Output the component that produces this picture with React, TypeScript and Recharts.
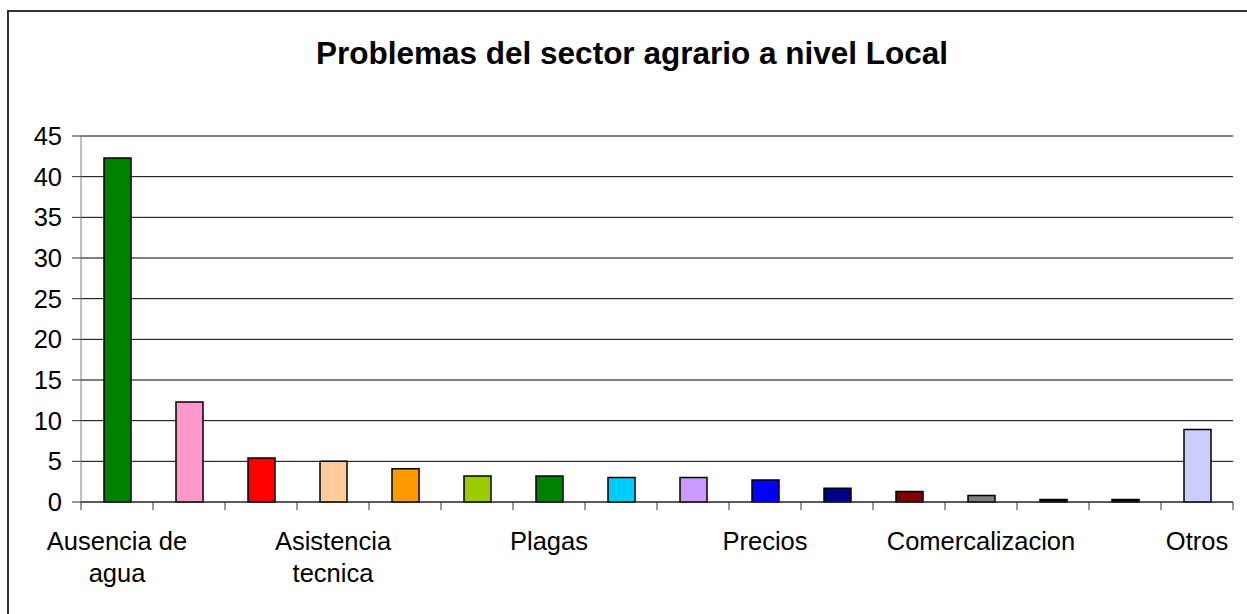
import React from 'react';
import { BarChart, Bar, Cell, XAxis, YAxis, CartesianGrid } from 'recharts';

const TITLE = 'Problemas del sector agrario a nivel Local';

// only every third category name is printed in the original
const categories = [
  'Ausencia de agua', '', '', 'Asistencia tecnica', '', '', 'Plagas', '', '',
  'Precios', '', '', 'Comercalizacion', '', '', 'Otros',
];
const values = [42.3, 12.3, 5.4, 5.0, 4.1, 3.2, 3.2, 3.0, 3.0, 2.7, 1.7, 1.3, 0.8, 0.3, 0.3, 8.9];
const barColors = [
  '#008000', '#FF99CC', '#FF0000', '#FFCC99', '#FF9900', '#99CC00', '#008000', '#00CCFF',
  '#CC99FF', '#0000FF', '#000080', '#800000', '#808080', '#000000', '#000000', '#CCCCFF',
];
const yTicks = [0, 5, 10, 15, 20, 25, 30, 35, 40, 45];

const data = categories.map((name, i) => ({ id: i, name, value: values[i] }));

const FONT = '"Liberation Sans", Arial, sans-serif';
const STEP = 72; // width of one category band

// wrap like the original: last word drops to a second line
const splitLabel = (s: string) => {
  const words = s.split(' ');
  if (words.length < 2) return [s];
  return [words.slice(0, -1).join(' '), words[words.length - 1]];
};

const CategoryTick = (props: any) => {
  const { x, y, index, payload } = props;
  const label = categories[payload.value] ?? '';
  const lines = label ? splitLabel(label) : [];
  return (
    <g>
      <line x1={x - STEP / 2} y1={y} x2={x - STEP / 2} y2={y + 8} stroke="#333" />
      {index === categories.length - 1 && (
        <line x1={x + STEP / 2} y1={y} x2={x + STEP / 2} y2={y + 8} stroke="#333" />
      )}
      {lines.length > 0 && (
        <text x={x} y={y + 48} textAnchor="middle" fill="#000" style={{ fontFamily: FONT, fontSize: 25.5 }}>
          {lines.map((l, i) => (
            <tspan key={i} x={x} dy={i === 0 ? 0 : 32}>
              {l}
            </tspan>
          ))}
        </text>
      )}
    </g>
  );
};

export default function App() {
  return (
    <div style={{ position: 'absolute', left: 0, top: 0, width: 1247, height: 614, background: '#fff' }}>
      <div
        style={{
          position: 'absolute', left: 7, top: 10, width: 1240, height: 604,
          boxSizing: 'border-box', borderTop: '2px solid #333', borderLeft: '2px solid #333',
        }}
      />
      <div
        style={{
          position: 'absolute', left: 0, top: 38, width: 1264, textAlign: 'center',
          fontFamily: FONT, fontWeight: 'bold', fontSize: 31.5, lineHeight: '30px', color: '#000',
        }}
      >
        {TITLE}
      </div>
      <div style={{ position: 'absolute', left: 0, top: 0 }}>
        <BarChart width={1247} height={614} data={data} margin={{ top: 136, right: 14, bottom: 0, left: 0 }}>
          <CartesianGrid vertical={false} stroke="#000" />
          <XAxis
            dataKey="id"
            type="category"
            height={112}
            interval={0}
            tickSize={0}
            tickMargin={0}
            stroke="#333"
            tick={<CategoryTick />}
          />
          <YAxis
            width={81}
            domain={[0, 45]}
            ticks={yTicks}
            interval={0}
            tickSize={9}
            tickMargin={10}
            stroke="#808080"
            tickLine={{ stroke: '#333' }}
            tick={{ fill: '#000', fontFamily: FONT, fontSize: 25.5 }}
          />
          <Bar dataKey="value" barSize={27} stroke="#000" strokeWidth={1.5} isAnimationActive={false}>
            {data.map((d, i) => (
              <Cell key={`c-${d.id}`} fill={barColors[i]} />
            ))}
          </Bar>
        </BarChart>
      </div>
    </div>
  );
}
